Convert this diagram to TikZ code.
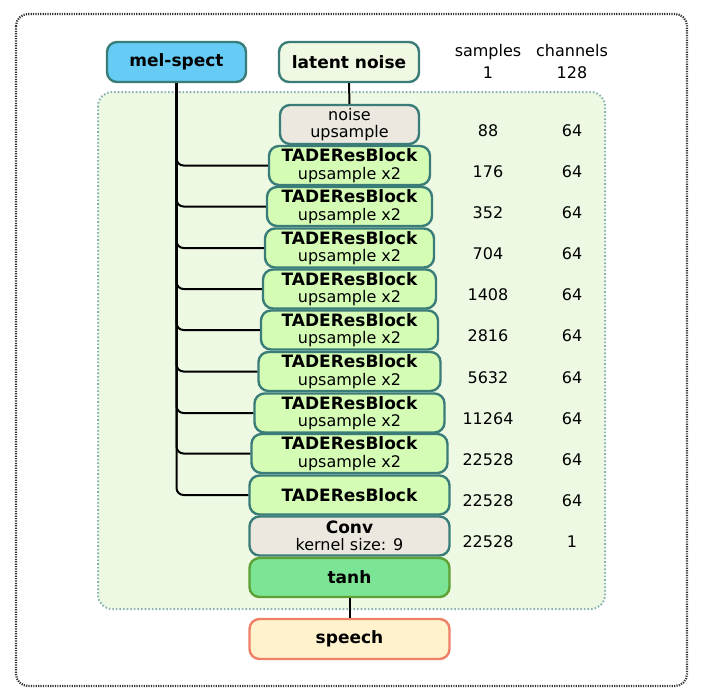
\documentclass[tikz,border=0pt]{standalone}
\usepackage{fontspec}
\setmainfont{DejaVu Sans}
\definecolor{teal1}{HTML}{3A7D78}
\definecolor{melfill}{HTML}{66CBF5}
\definecolor{tadefill}{HTML}{D5FCB5}
\definecolor{regfill}{HTML}{EEF9E4}
\definecolor{regline}{HTML}{8AB3B0}
\definecolor{beige}{HTML}{ECE8DF}
\definecolor{latfill}{HTML}{EEF8E2}
\definecolor{tanhfill}{HTML}{7BE495}
\definecolor{tanhline}{HTML}{5FA035}
\definecolor{spfill}{HTML}{FFF2CC}
\definecolor{spline}{HTML}{EE8068}
\definecolor{outline}{HTML}{333333}
\newcommand{\bigb}[1]{{\fontsize{17}{17}\selectfont\bfseries #1}}
\begin{document}
\begin{tikzpicture}[x=1pt,y=-1pt,
  box/.style={draw=teal1,line width=2.4pt,rounded corners=10pt,inner sep=0pt,
    minimum height=39pt,align=center,font=\fontsize{16}{17.5}\selectfont},
  tade/.style={box,fill=tadefill},
  tree/.style={line width=2pt,black,rounded corners=7pt},
  num/.style={anchor=base,font=\fontsize{16}{17}\selectfont,inner sep=0pt}]
\useasboundingbox (0,0) rectangle (702,697);
% outer frame
\draw[outline,line width=2.2pt,dash pattern=on 1.2pt off 1.2pt,rounded corners=12pt]
  (16,14) rectangle (687,686);
% green region
\draw[regline,fill=regfill,line width=2pt,dash pattern=on 1.6pt off 2pt,rounded corners=14pt]
  (98,92) rectangle (605,609);
% top nodes
\node[box,fill=melfill,minimum width=139pt,minimum height=40pt] (mel) at (176.5,62) {\bigb{mel-spect}};
\node[box,fill=latfill,minimum width=140pt,minimum height=40pt] (lat) at (349,62) {\bigb{latent noise}};
% stack
\node[box,fill=beige,minimum width=139pt] (nup) at (349.5,124.5) {noise\\upsample};
\node[tade,minimum width=161pt] (t1) at (349.5,165.5) {\bigb{TADEResBlock}\\upsample x2};
\node[tade,minimum width=165pt] (t2) at (349.5,206.5) {\bigb{TADEResBlock}\\upsample x2};
\node[tade,minimum width=169pt] (t3) at (349.5,248) {\bigb{TADEResBlock}\\upsample x2};
\node[tade,minimum width=173pt] (t4) at (349.5,289) {\bigb{TADEResBlock}\\upsample x2};
\node[tade,minimum width=177pt] (t5) at (349.5,330) {\bigb{TADEResBlock}\\upsample x2};
\node[tade,minimum width=182pt] (t6) at (349.5,371.5) {\bigb{TADEResBlock}\\upsample x2};
\node[tade,minimum width=190pt] (t7) at (349.5,413) {\bigb{TADEResBlock}\\upsample x2};
\node[tade,minimum width=196pt] (t8) at (349.5,453.5) {\bigb{TADEResBlock}\\upsample x2};
\node[tade,minimum width=200pt] (t9) at (349.5,495) {\bigb{TADEResBlock}};
\node[box,fill=beige,minimum width=200pt] (conv) at (349.5,536) {\bigb{Conv}\\kernel size: 9};
\node[box,draw=tanhline,fill=tanhfill,minimum width=200pt] (tanh) at (349.5,577.5) {\bigb{tanh}};
\node[box,draw=spline,fill=spfill,minimum width=200pt,minimum height=40pt] (sp) at (349.5,639) {\bigb{speech}};
% connectors
\draw[line width=2pt] (lat.south) -- (nup.north);
\draw[line width=2pt] (tanh.south) -- (sp.north);
\foreach \t in {t1,t2,t3,t4,t5,t6,t7,t8,t9}
  \draw[tree] (mel.south) |- (\t.west);
% column headers
\node[num] (hs) at (488,56.5) {samples};
\node[num] (hc) at (572,56.5) {channels};
\node[num] (s0) at (488,78) {1};
\node[num] (c0) at (572,78) {128};
% numbers
\foreach \n/\y/\s/\c in {nup/124.5/88/64, t1/165.5/176/64, t2/206.5/352/64, t3/248/704/64,
   t4/289/1408/64, t5/330/2816/64, t6/371.5/5632/64, t7/413/11264/64, t8/453.5/22528/64,
   t9/495/22528/64, conv/536/22528/1}{
  \node[num] (s-\n) at (488,\y+11.5) {\s};
  \node[num] (c-\n) at (572,\y+11.5) {\c};
}
\end{tikzpicture}
\end{document}
